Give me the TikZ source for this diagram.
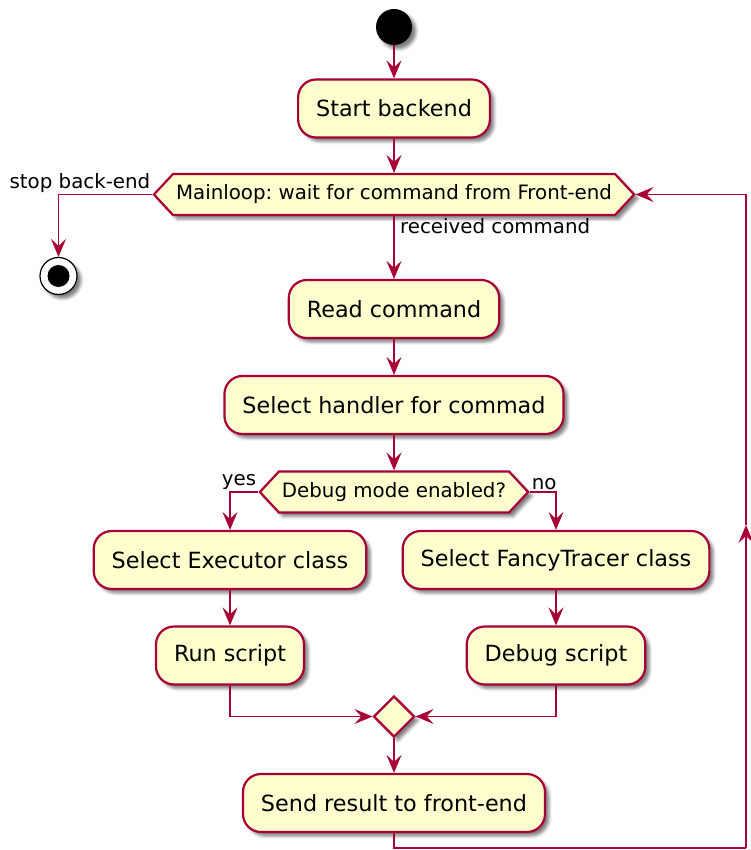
\documentclass[tikz,border=0pt]{standalone}
\usepackage{fontspec}
\setmainfont{DejaVu Sans}
\usetikzlibrary{arrows.meta,shapes.geometric,shapes.symbols,shadows.blur}
\definecolor{umlred}{HTML}{A80036}
\definecolor{umlfill}{HTML}{FEFECE}
\tikzset{
  umlshadow/.style={blur shadow={shadow xshift=4pt,shadow yshift=-4pt,shadow blur radius=3pt,shadow opacity=50}},
  act/.style={draw=umlred,fill=umlfill,line width=2.2pt,rounded corners=18pt,
    minimum height=58pt,inner xsep=18pt,font=\fontsize{22.3}{26}\selectfont,umlshadow},
  choice/.style={signal,signal to=west and east,signal pointer angle=94,draw=umlred,fill=umlfill,
    line width=2.2pt,minimum height=41pt,inner xsep=3pt,font=\fontsize{19.8}{23}\selectfont,umlshadow},
  joint/.style={diamond,draw=umlred,fill=umlfill,line width=2.2pt,minimum width=41pt,
    minimum height=41pt,inner sep=0pt,umlshadow},
  wire/.style={draw=umlred,line width=1.9pt},
  flow/.style={wire,-{Stealth[length=18pt,width=15pt,inset=7pt]}},
  guard/.style={font=\fontsize{19.8}{23}\selectfont,inner sep=2pt},
}
\begin{document}
\frenchspacing
\begin{tikzpicture}[x=1pt,y=-1pt]
\useasboundingbox (0,0) rectangle (750,850);
% start / stop
\node[circle,fill=black,minimum size=36pt,inner sep=0pt,umlshadow] (start) at (394,27) {};
\node[circle,draw=black,line width=1.2pt,fill=white,minimum size=37pt,inner sep=0pt,umlshadow] (stop) at (58.5,276) {};
\node[circle,fill=black,minimum size=22pt,inner sep=0pt] at (stop) {};
% activities
\node[act] (backend) at (394,108.5) {Start backend};
\node[choice] (loop) at (394,194.5) {Mainloop: wait for command from Front-end};
\node[act] (read) at (394,309) {Read command};
\node[act] (handler) at (394,405) {Select handler for commad};
\node[choice] (debug) at (394,492) {Debug mode enabled?};
\node[act] (exec) at (230,560) {Select Executor class};
\node[act] (fancy) at (556,560) {Select FancyTracer class};
\node[act] (run) at (230,655.5) {Run script};
\node[act] (dbg) at (556,655.5) {Debug script};
\node[joint] (merge) at (394,716.5) {};
\node[act] (send) at (394,803) {Send result to front-end};
% connectors
\draw[flow] (start) -- (backend);
\draw[flow] (backend) -- (loop);
\draw[flow] (loop.west) -| (stop);
\node[guard,anchor=south east] at (loop.west) {stop back-end};
\draw[flow] (loop) -- (read);
\node[guard,anchor=north west] at ([xshift=4pt]loop.south) {received command};
\draw[flow] (read) -- (handler);
\draw[flow] (handler) -- (debug);
\draw[flow] (debug.west) -| (exec);
\node[guard,anchor=south east] at (debug.west) {yes};
\draw[flow] (debug.east) -| (fancy);
\node[guard,anchor=south west] at (debug.east) {no};
\draw[flow] (exec) -- (run);
\draw[flow] (fancy) -- (dbg);
\draw[flow] (run) |- (merge.west);
\draw[flow] (dbg) |- (merge.east);
\draw[flow] (merge) -- (send);
% back to the main loop
\coordinate (back) at (746,848);
\coordinate (up) at (746,525);
\draw[wire] (send) |- (back);
\draw[flow] (back) -- (up);
\draw[flow] (up) |- (loop.east);
\end{tikzpicture}
\end{document}
